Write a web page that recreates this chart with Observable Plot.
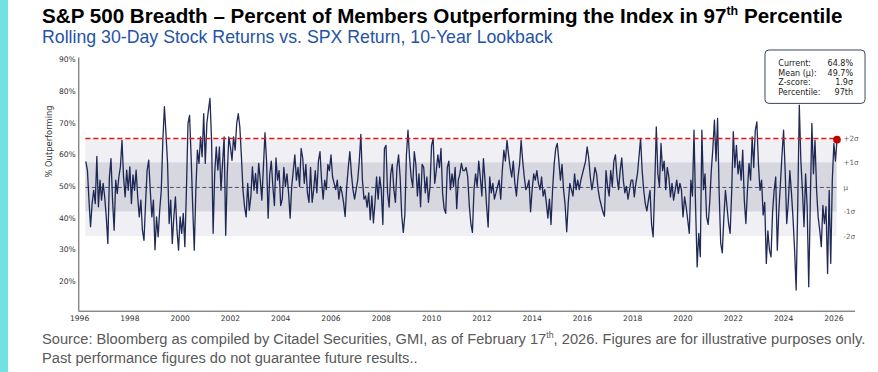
<!DOCTYPE html>
<html><head><meta charset="utf-8">
<script src="https://cdn.jsdelivr.net/npm/d3@7"></script>
<script src="https://cdn.jsdelivr.net/npm/@observablehq/plot@0.6"></script>
<style>
html,body{margin:0;padding:0;background:#fff;}
#page{position:relative;width:878px;height:372px;overflow:hidden;background:#fff;font-family:"Liberation Sans",Arial,sans-serif;}
#bar{position:absolute;left:0;top:0;width:8px;height:372px;background:#72e1e3;}
#title{position:absolute;left:42px;top:5px;font-weight:bold;font-size:19.5px;color:#000;white-space:nowrap;line-height:1.1;}
#subtitle{position:absolute;left:42px;top:28px;font-size:16px;color:#2453a6;white-space:nowrap;line-height:1.1;}
#chart{position:absolute;left:0;top:45px;}
.foot{position:absolute;left:42px;font-size:14.5px;color:#595959;white-space:nowrap;line-height:1.1;}
sup{font-size:60%;line-height:0;vertical-align:super;}
</style></head><body>
<div id="page">
 <div id="bar"></div>
 <div id="title">S&amp;P 500 Breadth – Percent of Members Outperforming the Index in 97<sup>th</sup> Percentile</div>
 <div id="subtitle">Rolling 30-Day Stock Returns vs. SPX Return, 10-Year Lookback</div>
 <div id="chart"></div>
 <div class="foot" id="f1" style="top:331px">Source: Bloomberg as compiled by Citadel Securities, GMI, as of February 17<sup>th</sup>, 2026. Figures are for illustrative purposes only.</div>
 <div class="foot" id="f2" style="top:350px">Past performance figures do not guarantee future results..</div>
</div>
<script>
// ---- data: % of S&P 500 members outperforming (rolling 30d), sampled every 1/16 year from 1996.25 ----
const pct1996_1999 = [
57.8,55.2,45.7,37.3,44.6,48.8,44.6,59.5,43.6,52,45.7,51,
46.7,40.4,32,53,58.8,45.7,36.2,52,47.8,53,56.2,64.6,53,46.7,55.2,48.8,
56.2,44.6,53.7,48.8,55.2,46.7,40.4,45.7,36.2,33,44.6,55.2,58.3,48.8,40.4,45.7,
30,40.4,34.1,42.5,48.8,64.6,75.2,66.7,57.3,38.3,45.7,32,40.4,46.7,36.2,29.9];
const pct2000_2009 = [
40.4,35.2,41.5,31,48.8,69.9,72.5,59.4,43.6,29.9,48.8,61.5,57.3,65.7,59.4,73,
57.3,69.9,74.1,77.8,64.6,35.2,54.1,62.5,55.2,62.5,48.8,57.3,65.7,34.6,54.1,65.7,
62.5,58.3,65.7,61.5,69.9,73,68.8,59.4,48.8,43.6,40.4,51,42.5,46.7,56.2,48.8,
54.1,47.8,57.3,52,45.7,56.2,67,58,40,53.7,58,50,44,59,52,55,
44,46,56,50,54,48,40,50,55,60,52,56,50,62,59,51,
57,48,45,56,45,49,55,48,58,61,52,46,52,49,57,55,
60,53,51,49,52,46,50,48,45,40.5,50,56,61,54,49,46,
49,52,58,66.5,52,46,47,43.5,48,39.5,47,38.5,45,53,46,53,
49,38,62,63,48,43.5,54,57,49,45,56,60,53,41,35.5,41,
60,67.8,59,53,50,61,57,47,54,43.6,57,56,48,53,45,50];
const pct2010_2019 = [
63,65.2,51,55,60,56,62,48,43,41.5,56,58,49,54,50,56,
43,52,54,57.3,55,55,56,53,44,38.3,35.5,49,54,50,58,53,
47,58.8,52,44,37.2,53,48,51,46,48,50,52,46,55,61.5,58,
64.6,60,56,53,58,51,47,53,57,64.6,58,53,49,50,52,42,
49,54,52,55,51,49,53,47,49,45,40,46,38,49,57,62,
63.6,58,52,57,49,44,35.7,45,51,49,47,54,49,52,49,52,
54,56,58,62.5,59,53,49,52,56,54,49,46,44,42,40.6,55,
50,47,55,50,58,60,53,49,55,59,52,48,50,46,49,52,
52,46.7,51,54,59.4,65.2,55,48.8,44.6,42.3,45.7,48.8,38,34.1,50,68.8,
54,50,63.6,55,58,49,56,53,46.7,51,45.7,48.8,52,47.8,51,49];
const pct2020_2026 = [
40.4,46.7,43.6,39.4,35.2,52,47,67.8,43.6,24.6,35.2,27.8,67.8,49,54,40.4,
38,45,55,62,71,58,71.5,48,32,29,40.4,48.8,43.6,38.3,35.2,48.8,
67.3,56,63,54,58,52,61.5,45.7,38.3,48.8,57.3,52,65.7,56,67.8,70.4,
57,48.8,52,41,45,25.7,36,30,27.8,42,48.8,53,29.9,42.5,51,60,
67.8,55,38.3,45,55,48,40,30,17.3,44,75.7,58,48.8,37.3,54,43.6,
18.3,45,69.9,54,64.6,48.8,40.4,36.2,31,44,38.3,43.6,22.5,48.8,25.7,52,
63.6,58,64.8];
const startYear = 1996.25, stepYears = 1/16;

// summary statistics shown in the chart
const meanPct = 49.7, sigmaPct = 7.75, currentPct = 64.8, zScore = 1.9, percentile = 97;
const bandLabels = ["+2σ", "+1σ", "μ", "-1σ", "-2σ"];
const bandZ = [2, 1, 0, -1, -2];
const boxLabels = ["Current:", "Mean (μ):", "Z-score:", "Percentile:"];
const boxValues = [currentPct.toFixed(1) + "%", meanPct.toFixed(1) + "%", zScore.toFixed(1) + "σ", percentile + "th"];
const yTicks = [20, 30, 40, 50, 60, 70, 80, 90];
const xTicks = d3.range(1996, 2027, 2);

// ---- layout ----
const W = 878, H = 285;
const values = [...pct1996_1999, ...pct2000_2009, ...pct2010_2019, ...pct2020_2026];
const series = values.map((v, i) => ({t: startYear + i * stepYears, v}));
const t0 = series[0].t, t1 = series[series.length - 1].t;
const last = series[series.length - 1];
const bands = [
  {x1: t0, x2: t1, y1: meanPct - 2 * sigmaPct, y2: meanPct + 2 * sigmaPct, f: "#f0f0f4"},
  {x1: t0, x2: t1, y1: meanPct - sigmaPct, y2: meanPct + sigmaPct, f: "#d6d7df"}
];
const lbl = bandLabels.map((l, i) => ({l, y: meanPct + bandZ[i] * sigmaPct, x: 2026.38}));
const box = [{x1: 2023.28, x2: 2027.26, y1: 76.1, y2: 92.97}];
const rowY = [88.77, 85.8, 82.8, 79.8];
const boxRows = boxLabels.map((l, i) => ({l, v: boxValues[i], y: rowY[i]}));

const chart = Plot.plot({
  width: W, height: H,
  marginLeft: 78.3, marginRight: 23, marginTop: 12.5, marginBottom: 19.3,
  x: {domain: [1995.97, 2026.86]},
  y: {domain: [10.6, 90.6]},
  style: {fontFamily: "DejaVu Sans", background: "transparent", overflow: "visible"},
  marks: [
    Plot.rect(bands, {x1: "x1", x2: "x2", y1: "y1", y2: "y2", fill: "f"}),
    Plot.ruleY([{y: meanPct, x1: t0, x2: t1}], {y: "y", x1: "x1", x2: "x2", stroke: "#3d4262", strokeWidth: 0.9, strokeDasharray: "4,2.5"}),
    Plot.line(series, {x: "t", y: "v", stroke: "#0e1848", strokeWidth: 1.3, strokeOpacity: 0.92}),
    Plot.ruleY([{y: meanPct + 2 * sigmaPct, x1: t0, x2: t1}], {y: "y", x1: "x1", x2: "x2", stroke: "#e01818", strokeWidth: 1.5, strokeDasharray: "5,3"}),
    Plot.dot([last], {x: "t", y: "v", r: 3.8, fill: "#c00000", stroke: "none"}),
    Plot.text(lbl, {x: "x", y: "y", text: "l", textAnchor: "start", fontSize: 7.2, fill: "#666"}),
    Plot.ruleX([1995.97], {stroke: "#555", strokeWidth: 1}),
    Plot.ruleY([10.6], {stroke: "#555", strokeWidth: 1}),
    Plot.axisY({ticks: yTicks, tickFormat: d => d + "%", tickSize: 0, tickPadding: 3, fontSize: 7.6, fill: "#333", label: null}),
    Plot.axisX({ticks: xTicks, tickFormat: d => String(d), tickSize: 0, tickPadding: 4, fontSize: 7.6, fill: "#333", label: null}),
    Plot.text(["% Outperforming"], {frameAnchor: "left", rotate: -90, dx: -30, dy: -7, fontSize: 8.4, fill: "#333"}),
    Plot.rect(box, {x1: "x1", x2: "x2", y1: "y1", y2: "y2", fill: "white", stroke: "#3b4560", strokeWidth: 1, rx: 4}),
    Plot.text(boxRows, {x: 2023.79, y: "y", text: "l", textAnchor: "start", fontSize: 8, fill: "#222"}),
    Plot.text(boxRows, {x: 2026.76, y: "y", text: "v", textAnchor: "end", fontSize: 8, fill: "#222"})
  ]
});
document.getElementById("chart").appendChild(chart);

function fit(id, target) {
  const el = document.getElementById(id);
  const fs = parseFloat(getComputedStyle(el).fontSize);
  const w = el.getBoundingClientRect().width;
  el.style.fontSize = (fs * target / w) + "px";
}
fit("title", 801); fit("subtitle", 511); fit("f1", 824);
document.getElementById("f2").style.fontSize = document.getElementById("f1").style.fontSize;
</script>
</body></html>
